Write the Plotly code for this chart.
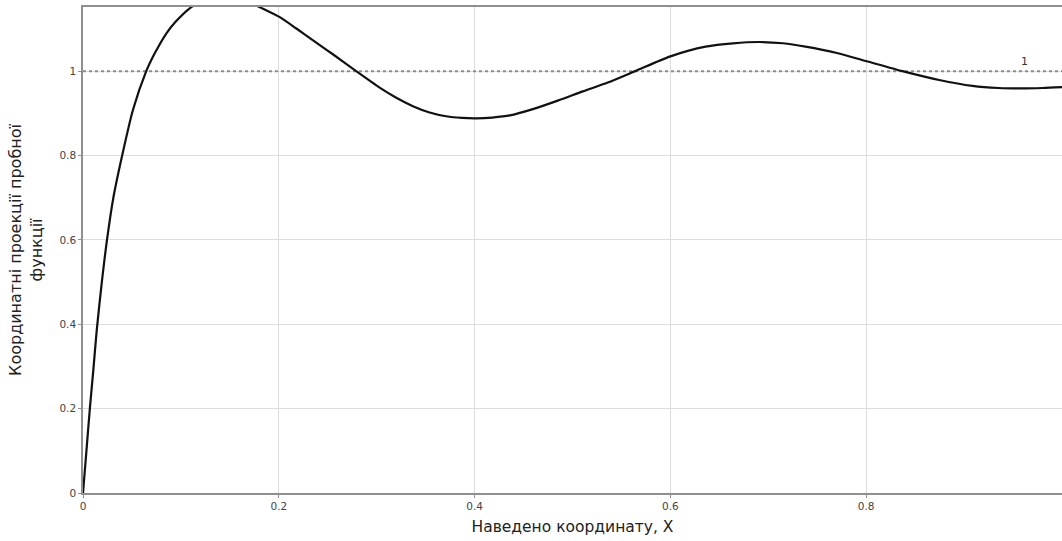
import plotly.graph_objects as go

# Values
x_vals = [0.0, 0.0035, 0.007, 0.0105, 0.014, 0.019, 0.0245, 0.031, 0.040, 0.051,
          0.0646, 0.0714, 0.078, 0.085, 0.095, 0.109, 0.12, 0.133, 0.145, 0.157,
          0.170, 0.182, 0.201, 0.218, 0.235, 0.257, 0.279, 0.303, 0.320, 0.337,
          0.354, 0.371, 0.387, 0.402, 0.418, 0.436, 0.4595, 0.485, 0.5105, 0.536,
          0.564, 0.600, 0.636, 0.664, 0.691, 0.715, 0.738, 0.770, 0.7997, 0.837,
          0.8745, 0.9085, 0.935, 0.9595, 0.980, 1.0]
y_vals = [0.0, 0.10, 0.20, 0.29, 0.385, 0.495, 0.60, 0.70, 0.80, 0.908,
          1.0, 1.034, 1.062, 1.089, 1.118, 1.149, 1.163, 1.172, 1.175, 1.172,
          1.163, 1.150, 1.128, 1.101, 1.073, 1.037, 1.0, 0.961, 0.937, 0.917,
          0.902, 0.893, 0.889, 0.888, 0.890, 0.895, 0.910, 0.930, 0.952, 0.973,
          1.0, 1.035, 1.058, 1.066, 1.069, 1.066, 1.058, 1.043, 1.024, 1.0,
          0.979, 0.965, 0.960, 0.959, 0.960, 0.962]

ref_x = [0.0, 1.0]
ref_y = [1.0, 1.0]
ref_label = "1"

x_ticks = [0, 0.2, 0.4, 0.6, 0.8, 1]
x_tick_text = ["0", "0.2", "0.4", "0.6", "0.8", "1"]
y_ticks = [0, 0.2, 0.4, 0.6, 0.8, 1]
y_tick_text = ["0", "0.2", "0.4", "0.6", "0.8", "1"]

font_family = "DejaVu Sans"

fig = go.Figure()
fig.add_trace(go.Scatter(x=ref_x, y=ref_y, mode="lines",
                         line=dict(color="#8c8c8c", width=2, dash="dot"),
                         hoverinfo="skip", showlegend=False))
fig.add_trace(go.Scatter(x=x_vals, y=y_vals, mode="lines",
                         line=dict(color="#111111", width=2.2, shape="spline", smoothing=0.7),
                         showlegend=False))

fig.add_annotation(x=0.962, y=1.0, text=ref_label, showarrow=False,
                   yanchor="bottom", yshift=1,
                   font=dict(family=font_family, size=11, color="#333333"))

axis_common = dict(showgrid=True, gridcolor="#dddddd", gridwidth=1,
                   showline=True, linecolor="#8f8f8f", linewidth=1.5, mirror=True,
                   ticks="outside", ticklen=3, tickcolor="#8f8f8f",
                   tickfont=dict(family=font_family, size=10.5, color="#444444"),
                   zeroline=False, automargin=False)

fig.update_xaxes(range=[0, 1], tickvals=x_ticks, ticktext=x_tick_text,
                 title=dict(text="Наведено координату, X", standoff=10,
                            font=dict(family=font_family, size=15.5, color="#222222")),
                 **axis_common)
fig.update_yaxes(range=[0, 1.152], tickvals=y_ticks, ticktext=y_tick_text,
                 title=dict(text="Координатні проекції пробної<br>функції", standoff=13,
                            font=dict(family=font_family, size=16, color="#222222")),
                 **axis_common)

fig.update_layout(width=1062, height=541,
                  margin=dict(l=83, r=0, t=7, b=48),
                  plot_bgcolor="white", paper_bgcolor="white",
                  font=dict(family=font_family))

fig.write_html("out.html",
               config={"displayModeBar": False},
               post_script="document.body.style.margin='0';document.body.style.overflow='hidden';")
